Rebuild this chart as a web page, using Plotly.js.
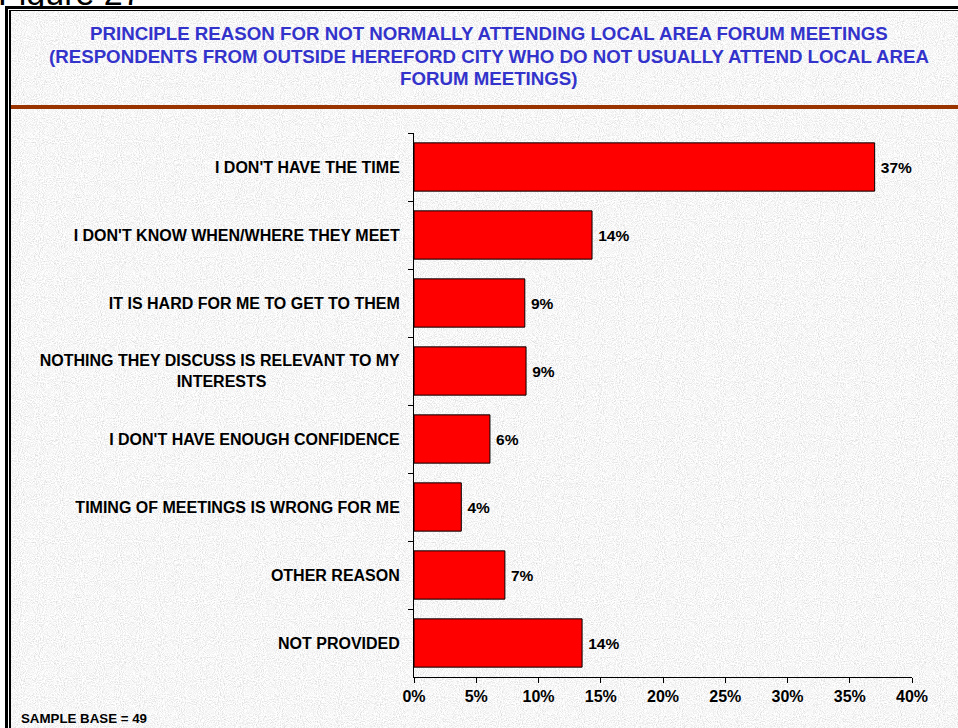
<!DOCTYPE html>
<html>
<head>
<meta charset="utf-8">
<script src="https://cdn.plot.ly/plotly-3.0.1.min.js"></script>
<style>
  html, body { margin:0; padding:0; width:958px; height:728px; overflow:hidden; background:#fff; }
  #fig { position:absolute; left:-2px; top:-26px; font-family: Arial, "Liberation Sans", sans-serif; font-size:34px; color:#000; white-space:nowrap; }
  #outer { position:absolute; left:5px; top:6px; width:970px; height:740px; border-left:3px solid #000; border-top:3px solid #000; background:#fff; box-sizing:border-box; }
  #inner { position:absolute; left:9px; top:10px; width:970px; height:740px; border-left:2px solid #000; border-top:1px solid #000; box-sizing:border-box; }
  #chart { position:absolute; left:11px; top:11px; width:947px; height:717px;
    background-color:#ebebeb;
    background-image:url("data:image/svg+xml;utf8,<svg xmlns='http://www.w3.org/2000/svg' width='400' height='400'><filter id='n'><feTurbulence type='fractalNoise' baseFrequency='0.95' numOctaves='2' stitchTiles='stitch' seed='4'/><feColorMatrix type='matrix' values='0.65 0 0 0 0.6  0.65 0 0 0 0.6  0.65 0 0 0 0.6  0 0 0 0 1'/></filter><rect width='100%25' height='100%25' filter='url(%23n)'/></svg>");
  }
  #rule { position:absolute; left:11px; top:105px; width:947px; height:4px; background:#993300; }
</style>
</head>
<body>
<div id="fig">Figure 27</div>
<div id="outer"></div>
<div id="inner"></div>
<div id="chart"></div>
<div id="rule"></div>
<script>
// ---- data ----
const categories = [
  "I DON'T HAVE THE TIME",
  "I DON'T KNOW WHEN/WHERE THEY MEET",
  "IT IS HARD FOR ME TO GET TO THEM",
  "NOTHING THEY DISCUSS IS RELEVANT TO MY<br>INTERESTS" + "\u00A0".repeat(30),
  "I DON'T HAVE ENOUGH CONFIDENCE",
  "TIMING OF MEETINGS IS WRONG FOR ME",
  "OTHER REASON",
  "NOT PROVIDED"
];
const values = [37.0, 14.3, 8.9, 9.0, 6.1, 3.8, 7.3, 13.5];
const valueLabels = ["37%", "14%", "9%", "9%", "6%", "4%", "7%", "14%"];
const xTickVals = [0, 5, 10, 15, 20, 25, 30, 35, 40];
const xTickText = ["0%", "5%", "10%", "15%", "20%", "25%", "30%", "35%", "40%"];
const titleLines = [
  "PRINCIPLE REASON FOR NOT NORMALLY ATTENDING LOCAL AREA FORUM MEETINGS",
  "(RESPONDENTS FROM OUTSIDE HEREFORD CITY WHO DO NOT USUALLY ATTEND LOCAL AREA",
  "FORUM MEETINGS)"
];
const sampleBase = "SAMPLE BASE = 49";

const FONT = 'Arial, "Liberation Sans", sans-serif';

const trace = {
  type: 'bar',
  orientation: 'h',
  y: categories,
  x: values,
  text: valueLabels,
  texttemplate: '\u2009%{text}',
  textposition: 'outside',
  cliponaxis: false,
  constraintext: 'none',
  textfont: { family: FONT, size: 15.5, color: '#000', weight: 'bold' },
  marker: { color: '#ff0000', line: { color: '#000', width: 1 } },
  hoverinfo: 'skip'
};

const titleY = [1.1838, 1.1415, 1.1011];
const annotations = titleLines.map((t, i) => ({
  text: t,
  xref: 'paper', yref: 'paper',
  x: 0.1506, y: titleY[i], xanchor: 'center', yanchor: 'middle',
  showarrow: false,
  font: { family: FONT, size: 18.7, color: '#3333cc', weight: 'bold' }
}));
annotations.push({
  text: sampleBase,
  xref: 'paper', yref: 'paper',
  x: -0.793, y: -0.077, xanchor: 'left', yanchor: 'middle',
  showarrow: false,
  font: { family: FONT, size: 13.3, color: '#000', weight: 'bold' }
});

const layout = {
  width: 947, height: 717,
  paper_bgcolor: 'rgba(0,0,0,0)',
  plot_bgcolor: 'rgba(0,0,0,0)',
  margin: { l: 403, r: 46, t: 122, b: 51 },
  showlegend: false,
  bargap: 0.29,
  font: { family: FONT, color: '#000' },
  xaxis: {
    range: [0, 40],
    tickmode: 'array', tickvals: xTickVals, ticktext: xTickText,
    showgrid: false, zeroline: false,
    showline: true, linecolor: '#000', linewidth: 1,
    ticks: 'outside', ticklen: 5, tickcolor: '#000', tickwidth: 1,
    tickfont: { family: FONT, size: 16, color: '#000', weight: 'bold' },
    fixedrange: true
  },
  yaxis: {
    type: 'category',
    categoryorder: 'array', categoryarray: categories,
    autorange: 'reversed',
    tickson: 'boundaries',
    showgrid: false, zeroline: false,
    showline: true, linecolor: '#000', linewidth: 1,
    ticks: 'outside', ticklen: 5, tickcolor: '#000', tickwidth: 1,
    ticklabelstandoff: 10,
    tickfont: { family: FONT, size: 16, color: '#000', weight: 'bold' },
    fixedrange: true
  },
  annotations: annotations
};

Plotly.newPlot('chart', [trace], layout, { displayModeBar: false, staticPlot: true });
</script>
</body>
</html>
